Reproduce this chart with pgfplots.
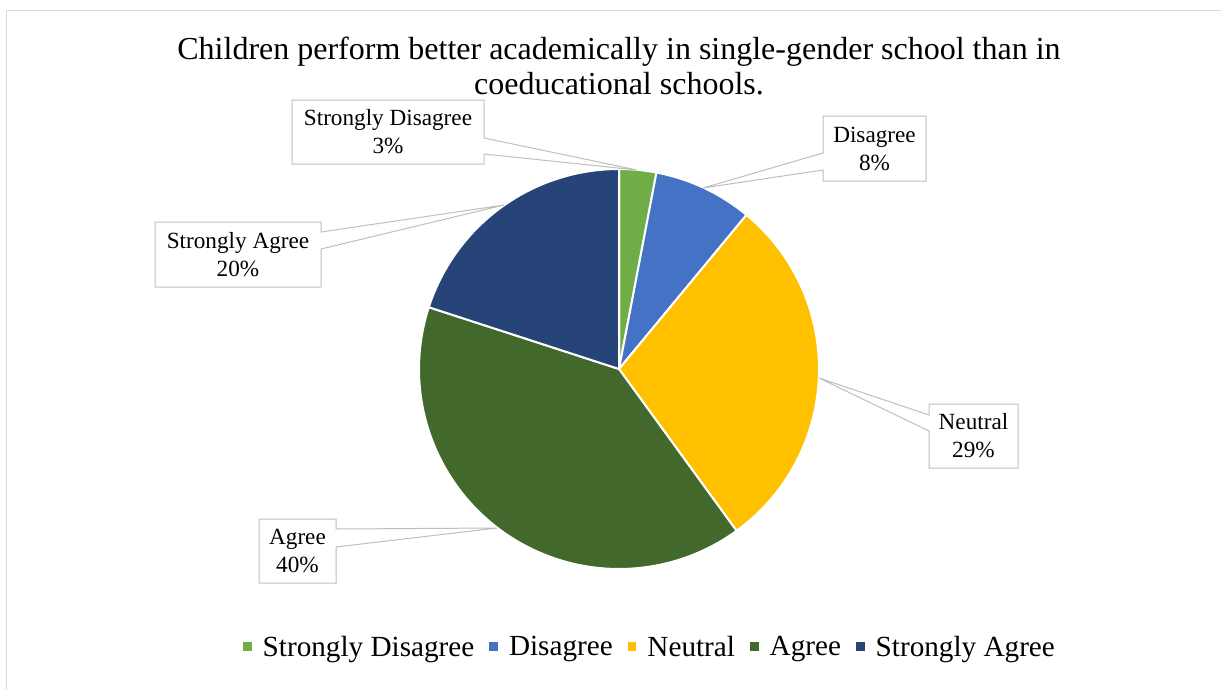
\documentclass[border=0pt]{standalone}
\usepackage{pgfplots}
\pgfplotsset{compat=1.18}
\usepackage{pgfplotstable}
\usepackage{fontspec}
\setmainfont{Liberation Serif}

\definecolor{slice0}{HTML}{70AD47}
\definecolor{slice1}{HTML}{4472C4}
\definecolor{slice2}{HTML}{FFC000}
\definecolor{slice3}{HTML}{43682B}
\definecolor{slice4}{HTML}{264478}
\definecolor{calloutgray}{HTML}{BFBFBF}
\definecolor{framegray}{HTML}{D9D9D9}

% Survey answers, in percent
\pgfplotstableread[col sep=comma]{
label,value
Strongly Disagree,3
Disagree,8
Neutral,29
Agree,40
Strongly Agree,20
}\piedata

\tikzset{
  callout/.style={draw=calloutgray, line width=0.75pt, fill=white, line join=miter},
  calloutlabel/.style={align=center, font=\fontsize{17.4}{21}\selectfont, inner sep=0pt},
}

\begin{document}
\begin{tikzpicture}
\begin{axis}[
  scale only axis, width=915.75pt, height=517.5pt,
  xmin=0, xmax=1221, ymin=0, ymax=690, y dir=reverse,
  hide axis, clip=false,
  legend style={
    at={(0.5307,0.0623)}, anchor=center,
    draw=none, fill=none, legend columns=-1,
    font=\fontsize{21.9}{26}\selectfont,
    nodes={inner sep=0pt},
    /tikz/every even column/.append style={column sep=9.75pt},
    /tikz/every odd column/.append style={column sep=6.75pt},
  },
  legend image code/.code={\fill[#1] (0pt,-3.5pt) rectangle (8pt,4.5pt);},
]
% pie slices, clockwise from twelve o'clock
\def\slicestart{-90}
\pgfplotsforeachungrouped \i in {0,...,4}{%
  \pgfplotstablegetelem{\i}{value}\of\piedata
  \pgfmathsetmacro\sliceend{\slicestart+3.6*\pgfplotsretval}%
  \edef\doslice{\noexpand\addplot[fill=slice\i, draw=white, line width=1.5pt,
      line join=round, domain=\slicestart:\sliceend, samples=90]
      ({619+200*cos(x)}, {369+200*sin(x)}) -- (axis cs:619,369) -- cycle;}%
  \doslice
  \pgfplotstablegetelem{\i}{label}\of\piedata
  \expandafter\addlegendentry\expandafter{\pgfplotsretval}%
  \let\slicestart\sliceend
}

% chart frame
\draw[framegray, line width=0.75pt] (6.5,690) -- (6.5,10.5) -- (1221,10.5);

% title
\node[anchor=base, font=\fontsize{24}{28}\selectfont] at (619,59)
  {Children perform better academically in single-gender school than in};
\node[anchor=base, font=\fontsize{24}{28}\selectfont] at (619,94)
  {coeducational schools.};

% data callouts
\draw[callout] (292,100) -- (484,100) -- (484,138) -- (637,170) -- (484,154)
  -- (484,164) -- (292,164) -- cycle;
\node[calloutlabel] at (388,132) {Strongly Disagree\\3\%};

\draw[callout] (823,116) -- (926,116) -- (926,181) -- (823,181) -- (823,170)
  -- (703,188) -- (823,153) -- cycle;
\node[calloutlabel] at (874.5,148.5) {Disagree\\8\%};

\draw[callout] (929,404) -- (1018,404) -- (1018,468) -- (929,468) -- (929,431)
  -- (819,378) -- (929,415) -- cycle;
\node[calloutlabel] at (973.5,436) {Neutral\\29\%};

\draw[callout] (259,519) -- (336,519) -- (336,529) -- (497,528) -- (336,547)
  -- (336,583) -- (259,583) -- cycle;
\node[calloutlabel] at (297.5,551) {Agree\\40\%};

\draw[callout] (155,222) -- (321,222) -- (321,232) -- (504,205) -- (321,249)
  -- (321,287) -- (155,287) -- cycle;
\node[calloutlabel] at (238,254.5) {Strongly Agree\\20\%};
\end{axis}
\pgfresetboundingbox
\path (0,0) rectangle (915.75pt,517.5pt);
\end{tikzpicture}
\end{document}
